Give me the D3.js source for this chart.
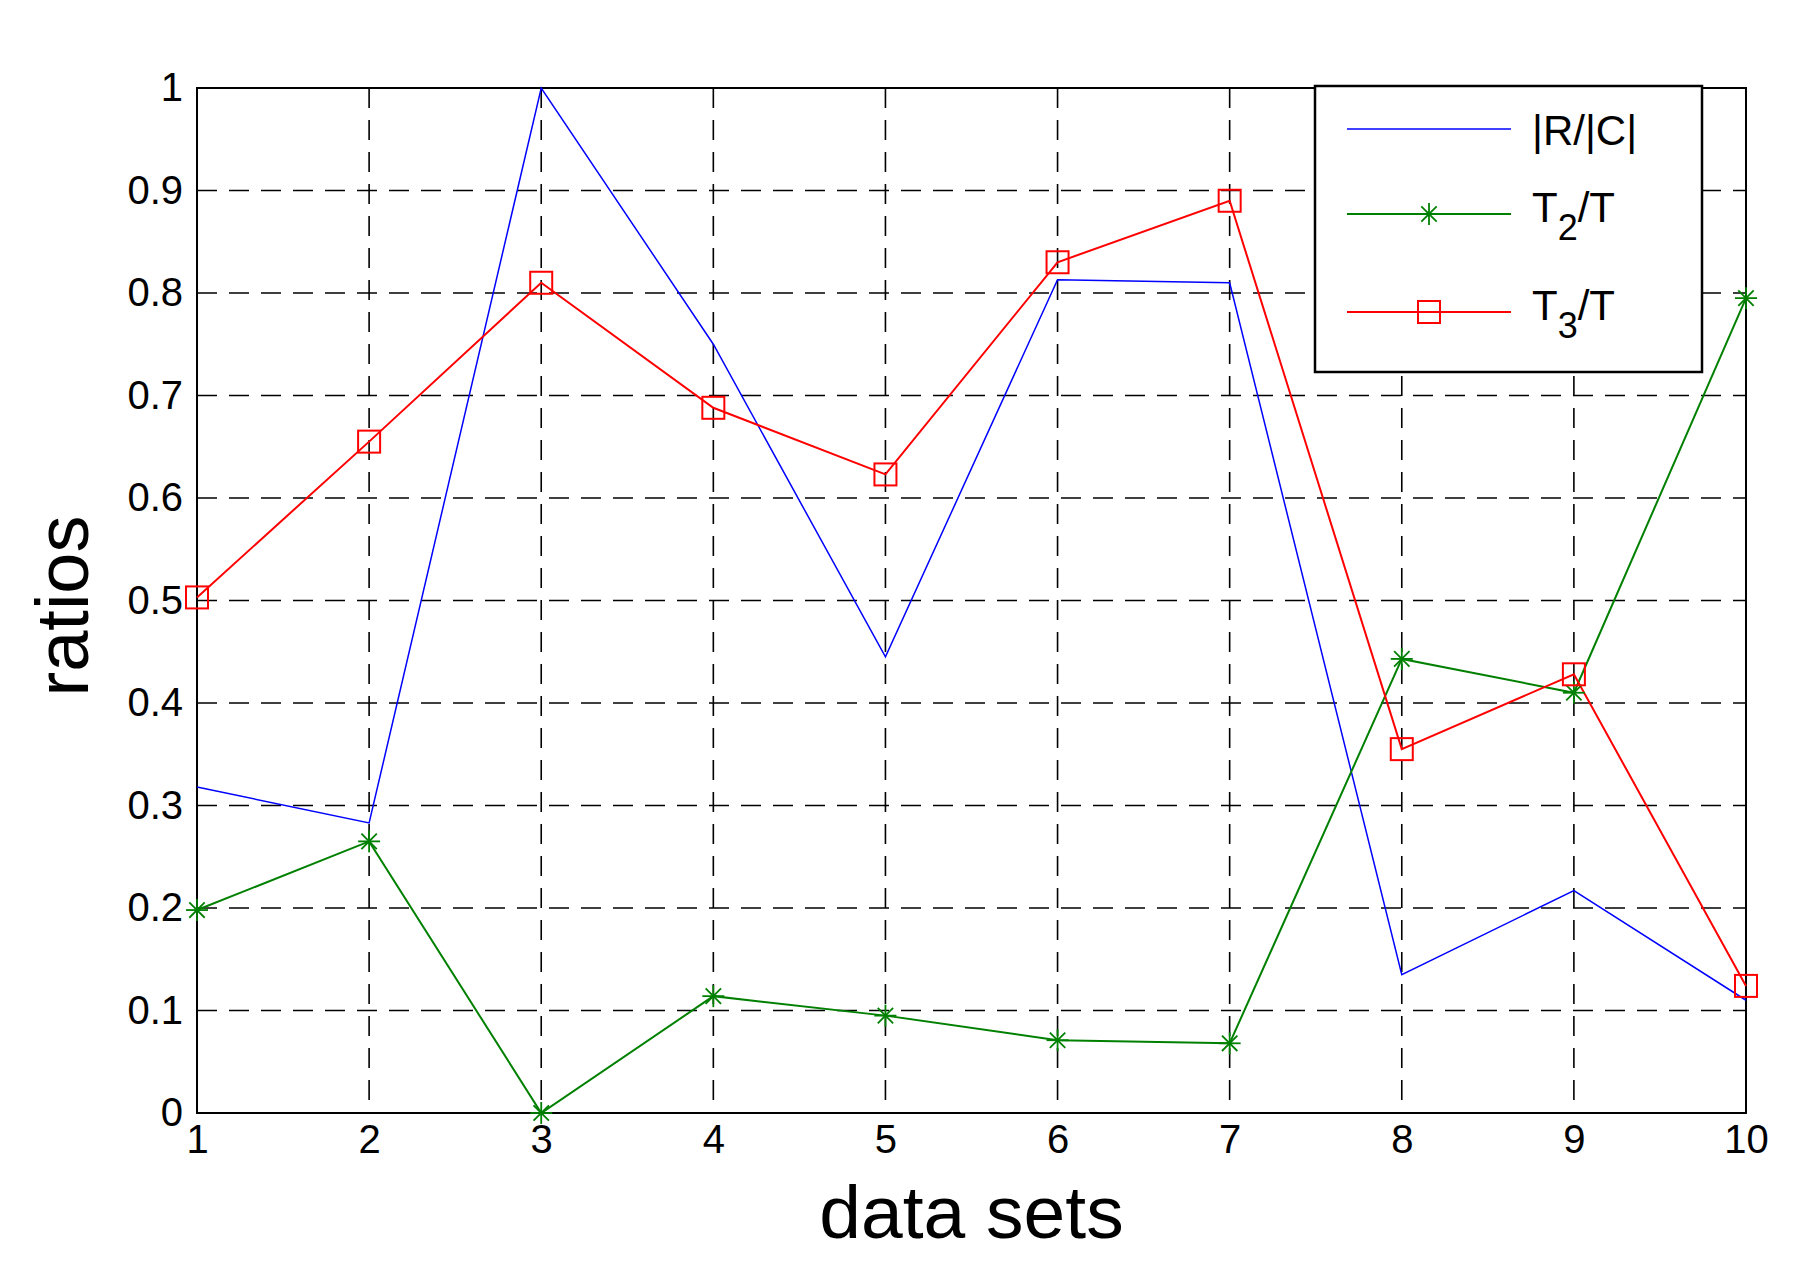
<!DOCTYPE html><html><head><script src="https://cdn.jsdelivr.net/npm/d3@7"></script>
<style>body{margin:0;background:#fff}text{font-family:"Liberation Sans",Arial,sans-serif}</style></head><body>
<svg id="c" width="1801" height="1262"></svg>
<script>
const categories=[1,2,3,4,5,6,7,8,9,10];
const rc=[0.318,0.283,1.0,0.75,0.445,0.813,0.81,0.135,0.217,0.11];
const t2=[0.198,0.265,0.0,0.114,0.095,0.071,0.068,0.443,0.41,0.795];
const t3=[0.503,0.655,0.81,0.688,0.623,0.83,0.89,0.355,0.428,0.124];
const yTicks=[0,0.1,0.2,0.3,0.4,0.5,0.6,0.7,0.8,0.9,1];
const L=197,R=1746,T=88,B=1113;
const svg=d3.select("#c");
const x=d3.scaleLinear().domain([1,10]).range([L,R]);
const y=d3.scaleLinear().domain([0,1]).range([B,T]);
const g=svg.append("g");
g.selectAll(".gx").data(categories).join("line").attr("x1",d=>x(d)).attr("x2",d=>x(d)).attr("y1",T).attr("y2",B).attr("stroke","#000").attr("stroke-width",1.6).attr("stroke-dasharray","20,12");
g.selectAll(".gy").data(yTicks).join("line").attr("y1",d=>y(d)).attr("y2",d=>y(d)).attr("x1",L).attr("x2",R).attr("stroke","#000").attr("stroke-width",1.6).attr("stroke-dasharray","20,12");
g.append("rect").attr("x",L).attr("y",T).attr("width",R-L).attr("height",B-T).attr("fill","none").attr("stroke","#000").attr("stroke-width",2);
const xa=svg.append("g").attr("transform",`translate(0,${B})`).call(d3.axisBottom(x).tickValues(categories).tickFormat(d3.format("d")).tickSize(0).tickPadding(12));
const ya=svg.append("g").attr("transform",`translate(${L},0)`).call(d3.axisLeft(y).tickValues(yTicks).tickFormat(d=>d===0||d===1?String(d):d3.format(".1f")(d)).tickSize(0).tickPadding(14));
[xa,ya].forEach(a=>{a.select(".domain").remove();a.selectAll("text").attr("font-size",40).attr("fill","#000").attr("font-family","Liberation Sans, Arial, sans-serif");});
const line=d3.line().x((d,i)=>x(categories[i])).y(d=>y(d));
svg.append("path").datum(rc).attr("d",line).attr("fill","none").attr("stroke","#0000ff").attr("stroke-width",1.5);
svg.append("path").datum(t2).attr("d",line).attr("fill","none").attr("stroke","#008000").attr("stroke-width",2);
svg.append("path").datum(t3).attr("d",line).attr("fill","none").attr("stroke","#ff0000").attr("stroke-width",2);
function star(sel,cx,cy){const s=11;const p=sel.append("g").attr("transform",`translate(${cx},${cy})`).attr("stroke","#008000").attr("stroke-width",1.8);
 p.append("line").attr("x1",-s).attr("x2",s);p.append("line").attr("y1",-s).attr("y2",s);
 p.append("line").attr("x1",-s*0.7).attr("y1",-s*0.7).attr("x2",s*0.7).attr("y2",s*0.7);p.append("line").attr("x1",-s*0.7).attr("y1",s*0.7).attr("x2",s*0.7).attr("y2",-s*0.7);}
t2.forEach((v,i)=>star(svg,x(categories[i]),y(v)));
svg.selectAll(".sq").data(t3).join("rect").attr("x",(d,i)=>x(categories[i])-11).attr("y",d=>y(d)-11).attr("width",22).attr("height",22).attr("fill","none").attr("stroke","#ff0000").attr("stroke-width",2);
svg.append("rect").attr("x",1315).attr("y",86).attr("width",387).attr("height",286).attr("fill","#fff").attr("stroke","#000").attr("stroke-width",2.5);
const ly=[129,214,312];const cols=["#0000ff","#008000","#ff0000"];
ly.forEach((yy,i)=>svg.append("line").attr("x1",1347).attr("x2",1511).attr("y1",yy).attr("y2",yy).attr("stroke",cols[i]).attr("stroke-width",i?2:1.5));
star(svg,1429,214);
svg.append("rect").attr("x",1418).attr("y",301).attr("width",22).attr("height",22).attr("fill","none").attr("stroke","#ff0000").attr("stroke-width",2);
const lt=svg.append("g").attr("font-size",42).attr("fill","#000");
lt.append("text").attr("x",1532).attr("y",145).text("|R/|C|");
const a=lt.append("text").attr("x",1532).attr("y",222);a.append("tspan").text("T");a.append("tspan").attr("dy",18).attr("font-size",36).text("2");a.append("tspan").attr("dy",-18).text("/T");
const b=lt.append("text").attr("x",1532).attr("y",320);b.append("tspan").text("T");b.append("tspan").attr("dy",18).attr("font-size",36).text("3");b.append("tspan").attr("dy",-18).text("/T");
svg.append("text").attr("x",(L+R)/2).attr("y",1238).attr("text-anchor","middle").attr("font-size",75).text("data sets");
svg.append("text").attr("transform","translate(88,606) rotate(-90)").attr("text-anchor","middle").attr("font-size",74).text("ratios");
</script></body></html>
